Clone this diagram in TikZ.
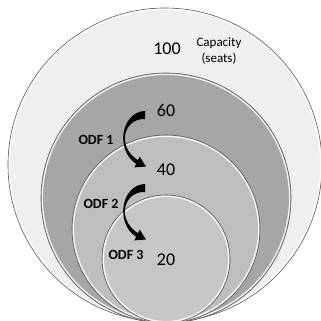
\documentclass[tikz,border=0pt]{standalone}
\usepackage{fontspec}
\setmainfont{Carlito}

\definecolor{seatsA}{HTML}{EFEFEF}
\definecolor{seatsB}{HTML}{A6A6A6}
\definecolor{seatsC}{HTML}{BEBEBE}
\definecolor{seatsD}{HTML}{C6C6C6}
\definecolor{rim}{HTML}{5A5A5A}

\tikzset{
  ring/.style={draw=rim, line width=0.6pt},
  bevel/.style={draw=white, line width=1.3pt, opacity=0.85},
  count/.style={font=\fontsize{18}{20}\selectfont},
  odf/.style={font=\bfseries\fontsize{14}{16}\selectfont},
}

% tapered bent arrow, thick end at the shift point
\newcommand{\bentarrow}[1]{%
  \fill[black, shift={#1}]
    (0,-4) .. controls (-24,-3) and (-30,35) .. (-8.9,48.8)
    -- (-10.7,52.4) -- (0.9,51.5) -- (-5.3,41.6) -- (-7.1,45.2)
    .. controls (-29,31) and (-21,3) .. (0,4) -- cycle;}

\begin{document}
\begin{tikzpicture}[x=1pt,y=-1pt]
  \useasboundingbox (0,0) rectangle (321,321);
  \clip (0,0) rectangle (321,321);

  % nested capacity circles, all touching at the bottom
  \fill[white] (0,0) rectangle (321,321);
  \filldraw[fill=seatsA, ring] (165,165) circle (157);
  \draw[bevel] (165,165) circle (155.6);
  \filldraw[fill=seatsB, ring] (166,198) circle (125);
  \draw[bevel] (166,198) circle (123.6);
  \filldraw[fill=seatsC, ring] (166,229) circle (94);
  \draw[bevel] (166,229) circle (92.6);
  \filldraw[fill=seatsD, ring] (166,259) circle (64);
  \draw[bevel] (166,259) circle (62.6);

  % values
  \node[count] (n100) at (167,49) {100};
  \node[align=center, font=\fontsize{13}{16.5}\selectfont] (cap) at (219,51) {Capacity\\(seats)};
  \node[count] (n60) at (166,110) {60};
  \node[count] (n40) at (166,170) {40};
  \node[count] (n20) at (166,260) {20};

  % steps
  \node[odf] (odf1) at (96,140) {ODF 1};
  \node[odf] (odf2) at (101,204) {ODF 2};
  \node[odf] (odf3) at (126,255) {ODF 3};

  \bentarrow{(145,115)}
  \bentarrow{(145,188)}
\end{tikzpicture}
\end{document}
